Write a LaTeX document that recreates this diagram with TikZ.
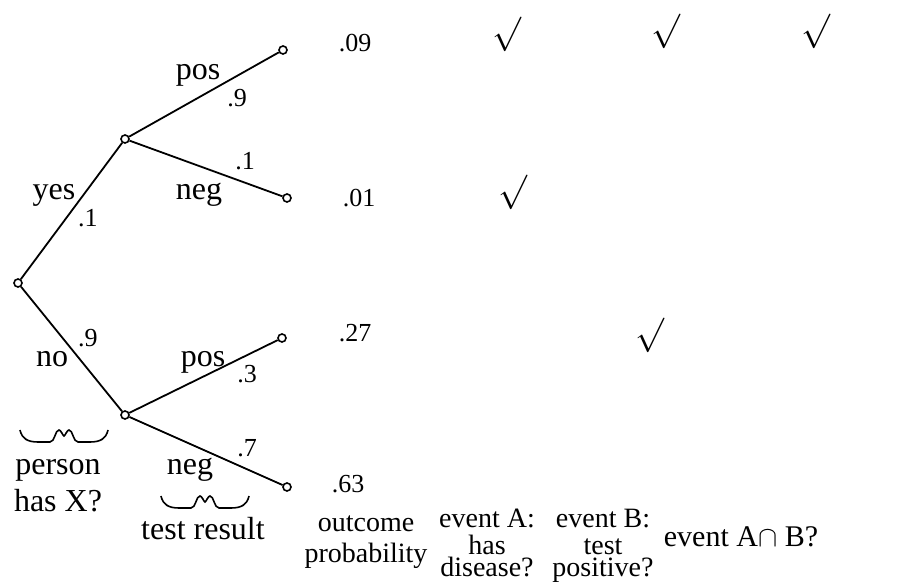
\documentclass[tikz,border=0pt]{standalone}
\usepackage{fontspec}
\setmainfont{Liberation Serif}
\usepackage{amsmath, amssymb}

\tikzset{
  dot/.style={circle, draw, line width=0.8pt, inner sep=0pt, minimum size=4pt},
  lbl/.style={anchor=base, inner sep=0pt, align=center, font=\fontsize{16}{18.5}\selectfont},
  prob/.style={anchor=base, inner sep=0pt, font=\fontsize{13}{15}\selectfont},
  hd/.style={anchor=base, inner sep=0pt, align=center, font=\fontsize{14}{16}\selectfont},
  chk/.style={inner sep=0pt, font=\fontsize{19}{19}\selectfont},
  ubrace/.pic={
    \draw[line width=0.8pt] (-44,0) .. controls (-42,9) and (-36,12) .. (-26,12) -- (-14,12)
      .. controls (-9,12) and (-9,0) .. (-5,0) .. controls (-3,0) and (-1,6) .. (0,6)
      .. controls (1,6) and (3,0) .. (5,0) .. controls (9,0) and (9,12) .. (14,12)
      -- (26,12) .. controls (36,12) and (42,9) .. (44,0);
  }
}

\begin{document}
\begin{tikzpicture}[x=0.5pt, y=-0.5pt, line width=0.9pt]
\useasboundingbox (0,0) rectangle (912,582);

% tree
\node[dot] (r) at (18,283) {};
\node[dot] (y) at (125,139) {};
\node[dot] (n) at (125,415) {};
\node[dot] (yp) at (283,50) {};
\node[dot] (yn) at (287,198) {};
\node[dot] (np) at (282,338) {};
\node[dot] (nn) at (287,487) {};

\draw (r) -- (y);
\draw (r) -- (n);
\draw (y) -- (yp);
\draw (y) -- (yn);
\draw (n) -- (np);
\draw (n) -- (nn);

% branch labels
\node[lbl] (yes) at (54,200) {yes};
\node[prob] (pyes) at (88,227) {.1};
\node[lbl] (no) at (52,367) {no};
\node[prob] (pno) at (88,347) {.9};
\node[lbl] (pos1) at (198,80) {pos};
\node[prob] (ppos1) at (237,107) {.9};
\node[lbl] (neg1) at (199,200) {neg};
\node[prob] (pneg1) at (245,170) {.1};
\node[lbl] (pos2) at (203,367) {pos};
\node[prob] (ppos2) at (247,383) {.3};
\node[lbl] (neg2) at (190,475) {neg};
\node[prob] (pneg2) at (247,457) {.7};

% outcomes
\node[prob] (o1) at (355,52) {.09};
\node[prob] (o2) at (359,207) {.01};
\node[prob] (o3) at (355,342) {.27};
\node[prob] (o4) at (348,493) {.63};

\node[chk] (c11) at (507,34) {$\surd$};
\node[chk] (c12) at (666,31) {$\surd$};
\node[chk] (c13) at (816,31) {$\surd$};
\node[chk] (c21) at (513,192) {$\surd$};
\node[chk] (c32) at (650,335) {$\surd$};

% braces and headings
\pic at (64,430) {ubrace};
\pic at (205,496) {ubrace};
\node[lbl] (h1) at (58,512) {person\\has X?};
\node[lbl] (h2) at (203,540) {test result};
\node[hd] (h3) at (366,563) {outcome\\[-0.5pt]probability};
\node[hd] (h4) at (487,577) {event A:\\[-2.5pt]has\\[-5pt]disease?};
\node[hd] (h5) at (603,577) {event B:\\[-2.5pt]test\\[-5pt]positive?};
\node[hd, font=\fontsize{15}{16}\selectfont] (h6) at (741,547) {event A$\cap$ B?};
\end{tikzpicture}
\end{document}
